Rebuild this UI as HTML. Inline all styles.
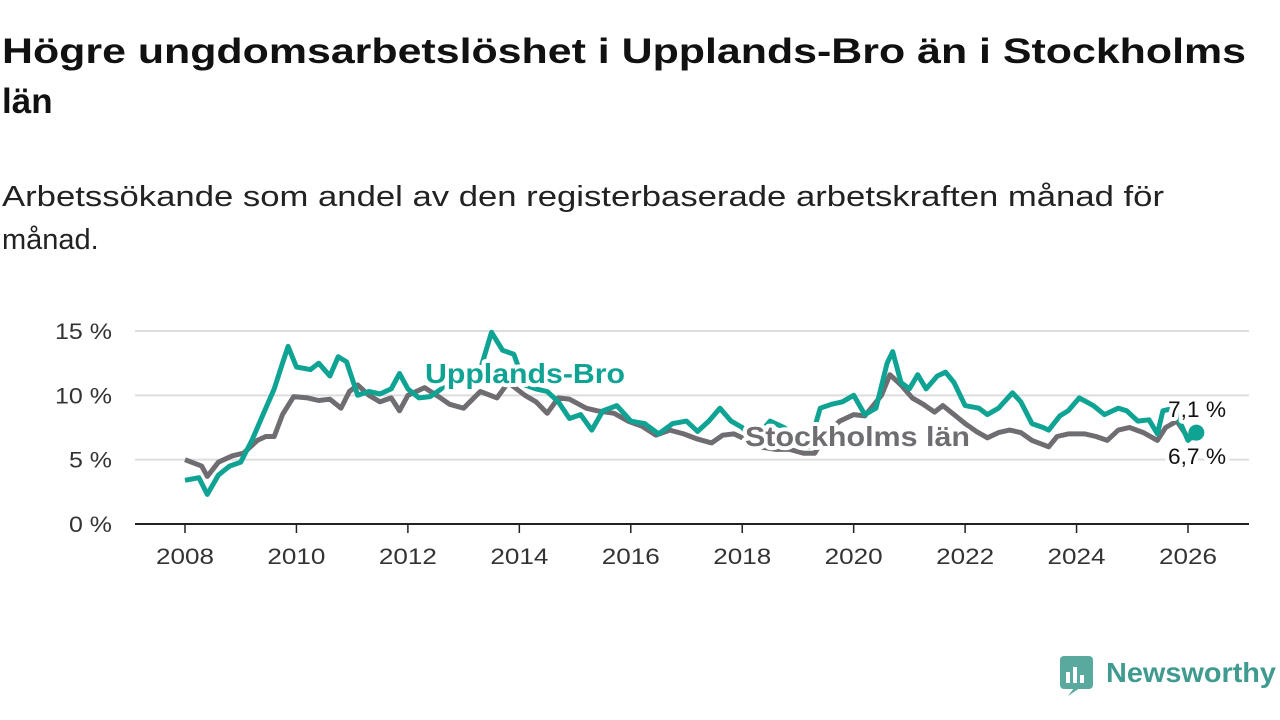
<!DOCTYPE html>
<html><head><meta charset="utf-8">
<style>
html,body{margin:0;padding:0;background:#fff;width:1280px;height:720px;overflow:hidden;font-family:"Liberation Sans",sans-serif;}
</style></head>
<body>
<svg id="chart" width="1280" height="720" xmlns="http://www.w3.org/2000/svg" font-family="Liberation Sans, sans-serif">
<text x="2" y="63" font-size="35" font-weight="bold" fill="#111" textLength="1244" lengthAdjust="spacingAndGlyphs">Högre ungdomsarbetslöshet i Upplands-Bro än i Stockholms</text>
<text x="2" y="113" font-size="35" font-weight="bold" fill="#111">län</text>
<text x="2" y="206" font-size="29" fill="#222" textLength="1162" lengthAdjust="spacingAndGlyphs">Arbetssökande som andel av den registerbaserade arbetskraften månad för</text>
<text x="2" y="249" font-size="29" fill="#222">månad.</text>
<g id="grid"></g><g id="axes"></g><g id="series"></g><g id="labels"></g>
<g>
<rect x="1060" y="656" width="33" height="33" rx="4" fill="#5aa99f"/>
<path d="M1068 696 L1074 688 L1080 688 Z" fill="#5aa99f"/>
<rect x="1066" y="672" width="4" height="11" fill="#fff"/><rect x="1073" y="667" width="4" height="16" fill="#fff"/><rect x="1080" y="675" width="4" height="8" fill="#fff"/>
<text x="1106" y="682" font-size="28" font-weight="bold" fill="#3f9a8f" textLength="170" lengthAdjust="spacingAndGlyphs">Newsworthy</text>
</g>
</svg>
<script>
const years=[2008,2010,2012,2014,2016,2018,2020,2022,2024,2026];
const yTicks=[0,5,10,15];
const ubT=[2008.0,2008.25,2008.4,2008.6,2008.8,2009.0,2009.2,2009.4,2009.6,2009.75,2009.85,2010.0,2010.25,2010.4,2010.6,2010.75,2010.9,2011.1,2011.3,2011.5,2011.7,2011.85,2012.0,2012.2,2012.4,2012.6,2012.8,2013.0,2013.3,2013.5,2013.7,2013.9,2014.1,2014.3,2014.5,2014.7,2014.9,2015.1,2015.3,2015.5,2015.75,2016.0,2016.25,2016.5,2016.75,2017.0,2017.2,2017.4,2017.6,2017.8,2018.0,2018.2,2018.5,2018.75,2019.0,2019.2,2019.4,2019.6,2019.8,2020.0,2020.2,2020.4,2020.6,2020.7,2020.85,2021.0,2021.15,2021.3,2021.5,2021.65,2021.8,2022.0,2022.25,2022.4,2022.6,2022.85,2023.0,2023.2,2023.4,2023.5,2023.7,2023.85,2024.05,2024.3,2024.5,2024.75,2024.9,2025.1,2025.3,2025.45,2025.55,2025.75,2025.85,2026.0,2026.15];
const ubV=[3.4,3.6,2.3,3.8,4.5,4.8,6.5,8.5,10.5,12.5,13.8,12.2,12.0,12.5,11.5,13.0,12.6,10.0,10.3,10.1,10.5,11.7,10.5,9.8,9.9,10.5,11.5,11.5,12.0,14.9,13.5,13.2,10.8,10.5,10.3,9.5,8.2,8.5,7.3,8.8,9.2,8.0,7.8,7.0,7.8,8.0,7.2,8.0,9.0,8.0,7.5,6.5,8.0,7.5,6.5,6.0,9.0,9.3,9.5,10.0,8.5,9.0,12.5,13.4,11.0,10.5,11.6,10.5,11.5,11.8,11.0,9.2,9.0,8.5,9.0,10.2,9.5,7.8,7.5,7.3,8.4,8.8,9.8,9.2,8.5,9.0,8.8,8.0,8.1,7.0,8.8,9.0,8.0,6.5,7.1];
const stT=[2008.0,2008.3,2008.4,2008.6,2008.85,2009.05,2009.3,2009.45,2009.6,2009.75,2009.95,2010.2,2010.4,2010.6,2010.8,2010.95,2011.1,2011.3,2011.5,2011.7,2011.85,2012.0,2012.3,2012.55,2012.75,2013.0,2013.3,2013.6,2013.8,2014.1,2014.3,2014.5,2014.7,2014.9,2015.2,2015.4,2015.7,2015.95,2016.2,2016.45,2016.7,2016.95,2017.2,2017.45,2017.65,2017.85,2018.1,2018.3,2018.6,2018.85,2019.1,2019.3,2019.5,2019.75,2020.0,2020.2,2020.5,2020.65,2020.85,2021.05,2021.25,2021.45,2021.6,2021.8,2022.0,2022.2,2022.4,2022.6,2022.8,2023.0,2023.2,2023.5,2023.65,2023.85,2024.15,2024.35,2024.55,2024.75,2024.95,2025.2,2025.45,2025.6,2025.8,2026.0,2026.15];
const stV=[5.0,4.5,3.7,4.8,5.3,5.5,6.5,6.8,6.8,8.5,9.9,9.8,9.6,9.7,9.0,10.3,10.8,10.0,9.5,9.8,8.8,10.0,10.6,9.9,9.3,9.0,10.3,9.8,11.0,10.0,9.5,8.6,9.8,9.7,9.0,8.8,8.6,8.0,7.6,6.9,7.3,7.0,6.6,6.3,6.9,7.0,6.5,6.0,5.8,5.8,5.5,5.5,7.0,8.0,8.5,8.4,10.0,11.6,10.8,9.8,9.3,8.7,9.2,8.5,7.8,7.2,6.7,7.1,7.3,7.1,6.5,6.0,6.8,7.0,7.0,6.8,6.5,7.3,7.5,7.1,6.5,7.5,8.0,6.7,6.7];
const NS="http://www.w3.org/2000/svg";
const X=t=>185+(t-2008)*(1188-185)/18;
const Y=v=>524-v*(524-331)/15;
function mk(tag,attrs,parent){const e=document.createElementNS(NS,tag);for(const k in attrs)e.setAttribute(k,attrs[k]);document.getElementById(parent).appendChild(e);return e;}
yTicks.forEach(v=>{
  if(v>0){const l=mk('line',{x1:135,x2:1249,y1:Y(v),y2:Y(v),stroke:'#ddd','stroke-width':2},'grid');
  
  }
  const s=v+' %';
  const t=mk('text',{x:112,y:Y(v)+8,'font-size':22,'text-anchor':'end',fill:'#333',textLength:(s.length>3?57:43),lengthAdjust:'spacingAndGlyphs'},'axes');t.textContent=s;
  
  
});
const ax=mk('line',{x1:135,x2:1249,y1:524,y2:524,stroke:'#222','stroke-width':2},'axes');


years.forEach(y=>{
  const tk=mk('line',{x1:X(y),x2:X(y),y1:524,y2:533,stroke:'#222','stroke-width':1.5},'axes');
  
  
  const t=mk('text',{x:X(y),y:564,'font-size':22,'text-anchor':'middle',fill:'#333',textLength:58,lengthAdjust:'spacingAndGlyphs'},'axes');t.textContent=y;
  
  
});
function line(T,V,col,name){
  const d=T.map((t,i)=>(i?'L':'M')+X(t).toFixed(1)+' '+Y(V[i]).toFixed(1)).join(' ');
  const p=mk('path',{d:d,fill:'none',stroke:col,'stroke-width':5,'stroke-linejoin':'round'},'series');
  
  
}
line(stT,stV,'#6f6d72','stockholm-line');
line(ubT,ubV,'#0fa394','upplands-bro-line');
const dot=mk('circle',{cx:X(ubT[ubT.length-1]),cy:Y(ubV[ubV.length-1]),r:8,fill:'#0fa394'},'series');


function lab(txt,x,y,col,size,bold,name,len){
  const a={x:x,y:y,'font-size':size,fill:col,'font-weight':bold?'bold':'normal',stroke:'#fff','stroke-width':8,'stroke-linejoin':'round','paint-order':'stroke',textLength:len,lengthAdjust:'spacingAndGlyphs'};
  const t=mk('text',a,'labels');t.textContent=txt;
  
  
}
lab('Upplands-Bro',425,383,'#0fa394',28,true,'upplands-bro-label',200);
lab('Stockholms län',745,446,'#6f6d72',28,true,'stockholm-label',225);
lab(ubV[ubV.length-1].toFixed(1).replace('.',',')+' %',1168,417,'#111',22,false,'upplands-bro-value',58);
lab(stV[stV.length-1].toFixed(1).replace('.',',')+' %',1168,464,'#111',22,false,'stockholm-value',58);
</script>
</body></html>
